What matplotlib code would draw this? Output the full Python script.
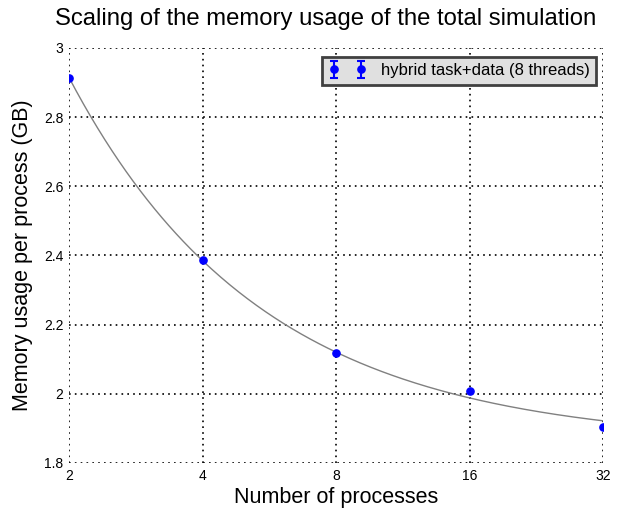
import matplotlib
matplotlib.use("Agg")
import matplotlib.pyplot as plt
import numpy as np

plt.rcParams['font.family'] = ['Liberation Sans', 'DejaVu Sans']

processes = [2, 4, 8, 16, 32]
memory_gb = [2.913, 2.386, 2.119, 2.007, 1.905]
memory_err = [0.005, 0.005, 0.005, 0.005, 0.005]
xtick_labels = ['2', '4', '8', '16', '32']
yticks = [1.8, 2.0, 2.2, 2.4, 2.6, 2.8, 3.0]
ytick_labels = ['1.8', '2', '2.2', '2.4', '2.6', '2.8', '3']

fig = plt.figure(figsize=(6.29, 5.15), dpi=100)
ax = fig.add_axes([0.1097, 0.101, 0.849, 0.806])

# fit a + b/x
x = np.array(processes, dtype=float)
y = np.array(memory_gb)
b, a = np.polyfit(1.0 / x, y, 1)
xf = np.logspace(np.log2(2), np.log2(32), 300, base=2)
ax.plot(xf, a + b / xf, color='#808080', lw=1.0, zorder=2)

ms = 5.2
cont = ax.errorbar(processes, memory_gb, yerr=memory_err, fmt='o', color='blue',
                   ms=ms, capsize=3, elinewidth=1.5, capthick=1.5,
                   label='hybrid task+data (8 threads)', zorder=3)

ax.set_xscale('log', base=2)
ax.set_xlim(2, 32)
ax.set_ylim(1.8, 3.0)
ax.set_xticks(processes)
ax.set_xticklabels(xtick_labels)
ax.xaxis.set_minor_locator(matplotlib.ticker.NullLocator())
ax.set_yticks(yticks)
ax.set_yticklabels(ytick_labels)
ax.tick_params(length=0, labelsize=10, pad=4)
for s in ax.spines.values():
    s.set_visible(False)
ax.grid(True, color='black', linestyle=(0, (1, 2.5)), lw=1.2)

ax.set_xlabel('Number of processes', fontsize=15.5, labelpad=3)
ax.set_ylabel('Memory usage per process (GB)', fontsize=15.5, labelpad=8)
fig.text(326 / 629, 1 - 25 / 515, 'Scaling of the memory usage of the total simulation',
         fontsize=17.2, ha='center', va='baseline')

leg = ax.legend(loc='upper right', numpoints=2, fontsize=12, fancybox=False,
                framealpha=1, borderpad=0.4, handletextpad=0.9, handlelength=2.2,
                bbox_to_anchor=(1.003, 0.999))
leg.get_frame().set_facecolor('#e0e0e0')
leg.get_frame().set_edgecolor('#404040')
leg.get_frame().set_linewidth(2)

# Agg does not pixel-clip Line2D markers; redraw points as a clipped scatter
cont.lines[0].set_data([], [])
for cap in cont.lines[1]:
    cap.set_data([], [])
ax.scatter(processes, memory_gb, s=ms ** 2, color='blue', linewidths=1,
           edgecolors='blue', zorder=3.1)

fig.savefig('out.png', dpi=100)
